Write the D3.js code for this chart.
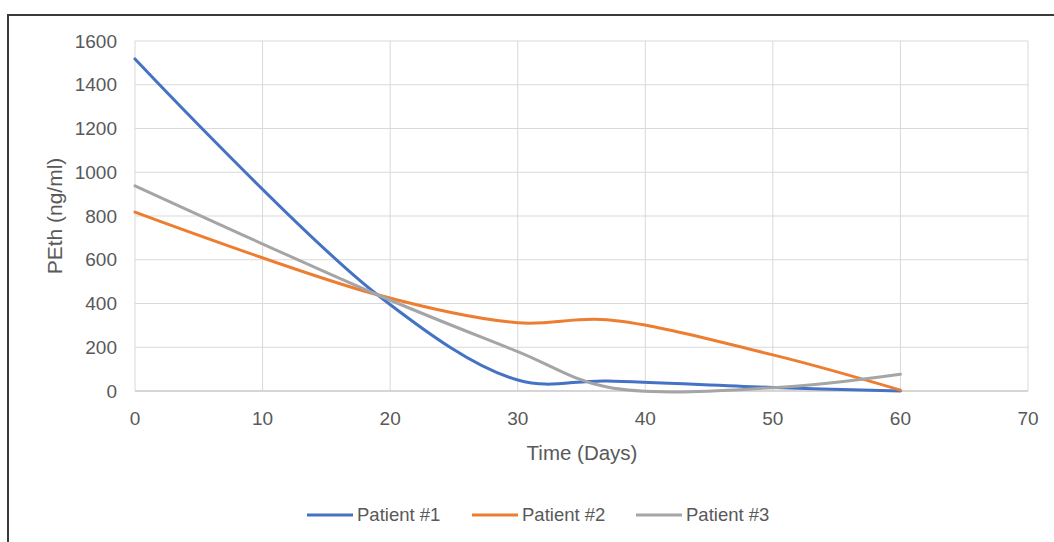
<!DOCTYPE html>
<html>
<head>
<meta charset="utf-8">
<script src="https://cdn.jsdelivr.net/npm/d3@7"></script>
<style>
  body { margin: 0; background: #fff; }
  text { font-family: "Liberation Sans", Arial, sans-serif; fill: #595959; }
</style>
</head>
<body>
<div id="chart"></div>
<script>
// dados
var days = [0, 19, 30, 37, 50, 60];
var patient1 = [1518, 440, 50, 46, 16, 0];
var patient2 = [818, 440, 312, 326, 165, 4];
var patient3 = [938, 440, 180, 18, 15, 77];
var seriesNames = ["Patient #1", "Patient #2", "Patient #3"];
var seriesColors = ["#4472C4", "#ED7D31", "#A5A5A5"];
var xTicks = [0, 10, 20, 30, 40, 50, 60, 70];
var yTicks = [0, 200, 400, 600, 800, 1000, 1200, 1400, 1600];

var width = 1054, height = 542;
// "top" é reservado no window, por isso plot*
var plotL = 135, plotR = 1028, plotT = 41, plotB = 391;

var svg = d3.select('#chart').append('svg')
    .attr('width', width)
    .attr('height', height);

// moldura (só topo e esquerda visíveis)
svg.append('line').attr('x1', 7).attr('x2', width).attr('y1', 15).attr('y2', 15)
    .attr('stroke', '#3a3a3a').attr('stroke-width', 2);
svg.append('line').attr('x1', 8).attr('x2', 8).attr('y1', 15).attr('y2', height)
    .attr('stroke', '#3a3a3a').attr('stroke-width', 2);

var x = d3.scaleLinear().domain([0, 70]).range([plotL, plotR]);
var y = d3.scaleLinear().domain([0, 1600]).range([plotB, plotT]);

// grelha
svg.append('g').selectAll('line')
    .data(yTicks)
    .enter().append('line')
    .attr('x1', plotL).attr('x2', plotR)
    .attr('y1', d => y(d)).attr('y2', d => y(d))
    .attr('stroke', '#d9d9d9').attr('stroke-width', 1);

svg.append('g').selectAll('line')
    .data(xTicks)
    .enter().append('line')
    .attr('x1', d => x(d)).attr('x2', d => x(d))
    .attr('y1', plotT).attr('y2', plotB)
    .attr('stroke', '#d9d9d9').attr('stroke-width', 1);

// eixo x por baixo (linha um pouco mais escura)
svg.append('line').attr('x1', plotL).attr('x2', plotR).attr('y1', plotB).attr('y2', plotB)
    .attr('stroke', '#bfbfbf').attr('stroke-width', 1);

// labels
svg.append('g').selectAll('text')
    .data(yTicks)
    .enter().append('text')
    .attr('x', 117).attr('y', d => y(d))
    .attr('dy', '0.35em')
    .attr('text-anchor', 'end')
    .style('font-size', '19px')
    .text(d => d);

svg.append('g').selectAll('text')
    .data(xTicks)
    .enter().append('text')
    .attr('x', d => x(d)).attr('y', 418)
    .attr('dy', '0.35em')
    .attr('text-anchor', 'middle')
    .style('font-size', '19px')
    .text(d => d);

svg.append('text')
    .attr('x', 582).attr('y', 453)
    .attr('dy', '0.35em')
    .attr('text-anchor', 'middle')
    .style('font-size', '20.5px')
    .text('Time (Days)');

svg.append('text')
    .attr('transform', 'translate(55,' + ((plotT + plotB) / 2) + ') rotate(-90)')
    .attr('dy', '0.35em')
    .attr('text-anchor', 'middle')
    .style('font-size', '21px')
    .text('PEth (ng/ml)');

// linhas suavizadas (tipo Excel)
var line = d3.line()
    .x(d => x(d[0]))
    .y(d => y(d[1]))
    .curve(d3.curveCatmullRom.alpha(0.5));

var allSeries = [patient1, patient2, patient3];
allSeries.forEach(function (vals, i) {
    var pts = days.map((d, j) => [d, vals[j]]);
    svg.append('path')
        .datum(pts)
        .attr('d', line)
        .attr('fill', 'none')
        .attr('stroke', seriesColors[i])
        .attr('stroke-width', 3)
        .attr('stroke-linecap', 'round');
});

// legenda
var legX = [307, 472, 636];
var leg = svg.append('g').selectAll('g')
    .data(seriesNames)
    .enter().append('g')
    .attr('transform', (d, i) => 'translate(' + legX[i] + ',515)');
leg.append('line')
    .attr('x1', 0).attr('x2', 46).attr('y1', 0).attr('y2', 0)
    .attr('stroke', (d, i) => seriesColors[i])
    .attr('stroke-width', 3);
leg.append('text')
    .attr('x', 50).attr('y', 0)
    .attr('dy', '0.35em')
    .style('font-size', '18.5px')
    .text(d => d);
</script>
</body>
</html>
